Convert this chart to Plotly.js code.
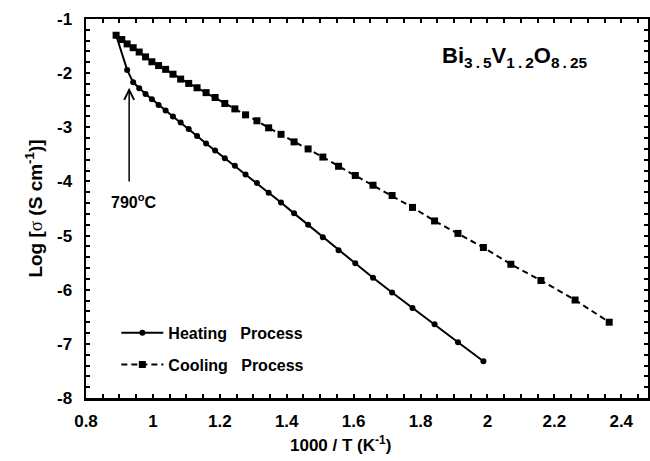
<!DOCTYPE html>
<html>
<head>
<meta charset="utf-8">
<script src="https://cdn.plot.ly/plotly-3.0.1.min.js"></script>
<style>
  html, body { margin: 0; padding: 0; background: #fff; }
  #chart { width: 650px; height: 461px; }
</style>
</head>
<body>
<div id="chart"></div>
<script>
// Arrhenius data for Bi3.5V1.2O8.25: x = 1000/T (K^-1), y = log(conductivity / S cm^-1)
const heatX = [0.890, 0.923, 0.941, 0.959, 0.978, 0.997, 1.017, 1.038, 1.060, 1.083,
               1.107, 1.132, 1.159, 1.186, 1.215, 1.245, 1.277, 1.311, 1.346, 1.383,
               1.422, 1.464, 1.508, 1.555, 1.605, 1.658, 1.715, 1.776, 1.842, 1.912, 1.988];
const heatY = [-1.30, -1.94, -2.17, -2.28, -2.385, -2.48, -2.59, -2.69, -2.80, -2.91,
               -3.03, -3.16, -3.30, -3.43, -3.57, -3.71, -3.87, -4.03, -4.21, -4.39,
               -4.59, -4.80, -5.03, -5.27, -5.51, -5.78, -6.05, -6.34, -6.64, -6.97, -7.32];

const coolX = [0.890, 0.907, 0.923, 0.941, 0.959, 0.978, 0.997, 1.017, 1.038, 1.060,
               1.083, 1.107, 1.132, 1.159, 1.186, 1.215, 1.245, 1.277, 1.311, 1.346,
               1.383, 1.422, 1.464, 1.508, 1.555, 1.605, 1.658, 1.715, 1.776, 1.842,
               1.912, 1.988, 2.070, 2.160, 2.262, 2.364];
const coolY = [-1.30, -1.38, -1.46, -1.53, -1.61, -1.70, -1.79, -1.86, -1.93, -2.02,
               -2.11, -2.19, -2.27, -2.36, -2.45, -2.56, -2.66, -2.77, -2.88, -3.01,
               -3.13, -3.27, -3.40, -3.55, -3.72, -3.89, -4.07, -4.26, -4.48, -4.73,
               -4.96, -5.22, -5.53, -5.83, -6.19, -6.60];

// axis ranges; fine ticks every small step, labelled (longer) ticks every big step
const xRange = [0.8, 2.48];
const yRange = [-8, -1];
const xSmallStep = 0.05, xLabelEvery = 4;   // labels at 0.8, 1, 1.2, ...
const ySmallStep = 0.2,  yLabelEvery = 5;   // labels at -8, -7, ...

// only every n-th fine tick carries a label; the others are blanked
function buildAlias(start, step, end, every, digits) {
  const alias = {};
  const n = Math.round((end - start) / step);
  for (let k = 0; k <= n; k++) {
    const v = start + k * step;
    const raw = Math.abs(v).toFixed(digits);
    const shown = k % every === 0 ? (v < 0 ? '-' : '') + String(parseFloat(raw)) : '';
    const sign = v < 0 && parseFloat(raw) !== 0;
    alias[(sign ? '\u2212' : '') + raw] = shown;
    alias[(sign ? '-' : '') + raw] = shown;
  }
  return alias;
}
const xAlias = buildAlias(xRange[0], xSmallStep, xRange[1], xLabelEvery, 2);
const yAlias = buildAlias(yRange[0], ySmallStep, yRange[1], yLabelEvery, 1);

// transition marker on the heating curve
const transitionX = 0.929;
const transitionY = -2.27;
const transitionTailY = -4.03;

const FONT = 'Liberation Sans, Arial, Helvetica, sans-serif';

const traces = [
  {
    x: heatX, y: heatY, type: 'scatter', mode: 'lines+markers',
    name: 'Heating\u00a0\u00a0\u00a0Process', legendgroup: 'h',
    line: { color: '#000', width: 2 },
    marker: { symbol: 'circle', size: 6, color: '#000' }
  },
  {
    x: coolX, y: coolY, type: 'scatter', mode: 'lines+markers',
    name: 'Cooling\u00a0\u00a0\u00a0Process', legendgroup: 'c',
    line: { color: '#000', width: 2, dash: '6px,4px' },
    marker: { symbol: 'square', size: 7, color: '#000' }
  }
];

const axisCommon = {
  showline: true, linecolor: '#000', linewidth: 2.5, mirror: 'ticks',
  ticks: 'inside', ticklen: 4, tickwidth: 2, tickcolor: '#000',
  showgrid: false, zeroline: false, tickmode: 'linear',
  tickfont: { family: FONT, size: 17, color: '#000', weight: 'bold' }
};

const longTicks = { ticks: 'inside', ticklen: 8, tickwidth: 2, tickcolor: '#000', tickmode: 'linear' };

const layout = {
  width: 650, height: 461,
  margin: { l: 86, r: 2, t: 19, b: 63 },
  paper_bgcolor: '#fff', plot_bgcolor: '#fff',
  showlegend: true,
  legend: {
    x: 0.054, y: 0.13, xanchor: 'left', yanchor: 'middle',
    bgcolor: 'rgba(0,0,0,0)', traceorder: 'grouped', tracegroupgap: 8,
    itemwidth: 42,
    font: { family: FONT, size: 16, color: '#000', weight: 'bold' }
  },
  xaxis: Object.assign({}, axisCommon, {
    range: xRange, tick0: xRange[0], dtick: xSmallStep, tickformat: '.2f',
    labelalias: xAlias,
    minor: Object.assign({}, longTicks, { tick0: xRange[0], dtick: xSmallStep * xLabelEvery }),
    ticklabelstandoff: 6
  }),
  yaxis: Object.assign({}, axisCommon, {
    range: yRange, tick0: yRange[0], dtick: ySmallStep, tickformat: '.1f',
    labelalias: yAlias,
    minor: Object.assign({}, longTicks, { tick0: yRange[0], dtick: ySmallStep * yLabelEvery }),
    ticklabelstandoff: 8,
    title: {
      text: 'Log [<span style="font-family:Liberation Serif,Times New Roman,serif;font-weight:normal">σ</span> (S cm<sup>-1</sup>)]',
      font: { family: FONT, size: 19, color: '#000', weight: 'bold' },
      standoff: 10
    }
  }),
  annotations: [
    {
      xref: 'paper', yref: 'paper', x: 0.452, y: -0.088, xanchor: 'center', yanchor: 'top',
      text: '1000 / T (K<sup>-1</sup>)', showarrow: false,
      font: { family: FONT, size: 17, color: '#000', weight: 'bold' }
    },
    {
      xref: 'paper', yref: 'paper', x: 0.63, y: 0.9, xanchor: 'left', yanchor: 'middle',
      text: 'Bi<sub>3\u2009.\u20095</sub>V<sub>1\u2009.\u20092</sub>O<sub>8\u2009.\u200925</sub>',
      showarrow: false,
      font: { family: FONT, size: 22, color: '#000', weight: 'bold' }
    },
    {
      x: transitionX, y: transitionY, ax: transitionX, ay: transitionTailY,
      xref: 'x', yref: 'y', axref: 'x', ayref: 'y',
      text: '', showarrow: true, arrowhead: 5, arrowsize: 1.3, arrowwidth: 1.5,
      arrowcolor: '#000', standoff: 0, startstandoff: 0
    },
    {
      x: 0.942, y: transitionTailY, xref: 'x', yref: 'y', xanchor: 'center', yanchor: 'top',
      yshift: -6,
      text: '790<sup>o</sup>C', showarrow: false,
      font: { family: FONT, size: 16, color: '#000', weight: 'bold' }
    }
  ]
};

Plotly.newPlot('chart', traces, layout, { staticPlot: true, displayModeBar: false });
</script>
</body>
</html>
